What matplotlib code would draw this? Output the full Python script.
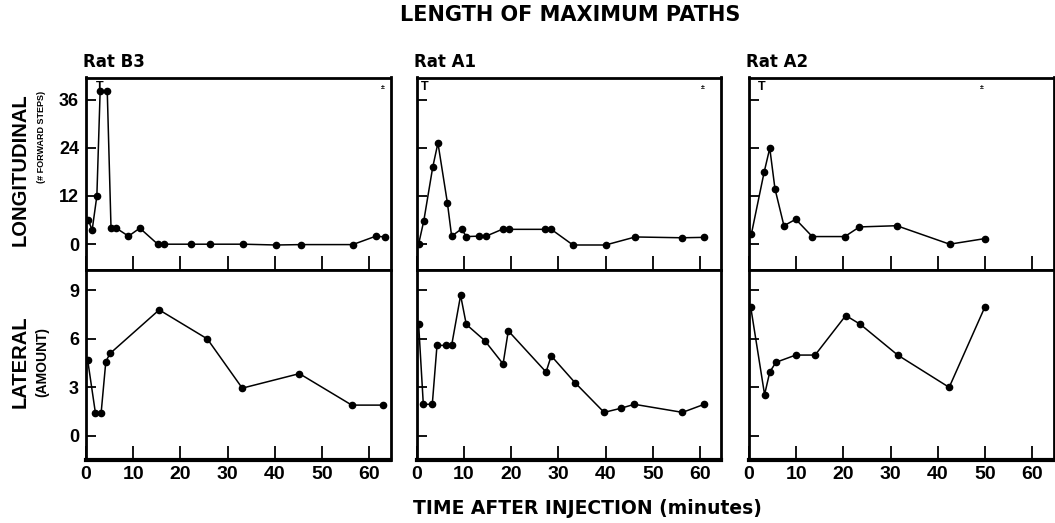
import matplotlib
matplotlib.use("Agg")
import matplotlib.pyplot as plt

plt.rcParams['font.family'] = ['Liberation Sans', 'DejaVu Sans']
plt.rcParams['font.weight'] = 'bold'

# ---------------- data ----------------
rats = ["Rat B3", "Rat A1", "Rat A2"]

b3_long_t = [0.5, 1.3, 2.3, 3.0, 4.5, 5.3, 6.4, 9.0, 11.4, 15.2, 16.5, 22.3, 26.3, 33.3, 40.3, 45.6, 56.5, 61.4, 63.3]
b3_long_v = [6.0, 3.5, 12.0, 38.2, 38.2, 4.0, 4.0, 2.0, 4.0, 0.0, 0.0, 0.0, 0.0, 0.0, -0.2, -0.1, -0.1, 2.0, 1.8]
b3_lat_t = [0.35, 2.0, 3.2, 4.2, 5.1, 15.5, 25.7, 33.1, 45.2, 56.3, 63.0]
b3_lat_v = [4.7, 1.4, 1.4, 4.6, 5.1, 7.8, 6.0, 2.95, 3.85, 1.9, 1.9]

a1_long_t = [0.4, 1.5, 3.4, 4.5, 6.5, 7.4, 9.5, 10.5, 13.1, 14.7, 18.3, 19.6, 27.1, 28.5, 33.1, 40.0, 46.3, 56.2, 60.8]
a1_long_v = [0.0, 5.8, 19.2, 25.2, 10.3, 2.0, 3.8, 1.9, 2.0, 2.0, 3.8, 3.7, 3.7, 3.7, -0.2, -0.2, 1.8, 1.6, 1.7]
a1_lat_t = [0.4, 1.4, 3.3, 4.3, 6.2, 7.4, 9.3, 10.5, 14.4, 18.3, 19.4, 27.4, 28.5, 33.5, 39.7, 43.2, 46.1, 56.3, 60.9]
a1_lat_v = [6.95, 1.95, 1.95, 5.6, 5.6, 5.6, 8.7, 6.9, 5.9, 4.45, 6.5, 3.95, 4.95, 3.3, 1.45, 1.7, 1.95, 1.45, 1.95]

a2_long_t = [0.5, 3.2, 4.4, 5.5, 7.4, 9.9, 13.4, 20.3, 23.4, 31.3, 42.5, 50.0]
a2_long_v = [2.5, 17.9, 23.9, 13.8, 4.6, 6.2, 1.9, 1.9, 4.3, 4.6, 0.0, 1.4]
a2_lat_t = [0.35, 3.3, 4.4, 5.7, 9.9, 14.0, 20.5, 23.6, 31.5, 42.4, 50.0]
a2_lat_v = [8.0, 2.55, 3.95, 4.55, 5.0, 5.0, 7.45, 6.9, 5.0, 3.0, 8.0]

long_t = [b3_long_t, a1_long_t, a2_long_t]
long_v = [b3_long_v, a1_long_v, a2_long_v]
lat_t = [b3_lat_t, a1_lat_t, a2_lat_t]
lat_v = [b3_lat_v, a1_lat_v, a2_lat_v]

x_ticks = [0, 10, 20, 30, 40, 50, 60]
long_ticks = [0, 12, 24, 36]
lat_ticks = [0, 3, 6, 9]

# "T" marks near top of each longitudinal panel (x position in minutes)
t_mark_x = [3.0, 1.7, 2.7]
# tiny marks near top right
small_mark_x = [62.8, 60.5, 49.4]

# ---------------- figure ----------------
W, H = 1055, 523
fig = plt.figure(figsize=(W / 100, H / 100), dpi=100)

lefts_px = [86, 416.7, 749]
ax_w_px = 304.5
top_px, mid_px, bot_px = 77.5, 269.5, 460

def fx(px):
    return px / W

def fy(py):
    return 1 - py / H

for i in range(3):
    l = fx(lefts_px[i])
    w = ax_w_px / W
    ax_top = fig.add_axes([l, fy(mid_px), w, (mid_px - top_px) / H])
    ax_bot = fig.add_axes([l, fy(bot_px), w, (bot_px - mid_px) / H])

    for ax in (ax_top, ax_bot):
        ax.set_xlim(0, 64.5)
        ax.set_xticks(x_ticks)
        for s in ax.spines.values():
            s.set_linewidth(2)
        ax.tick_params(direction='in', width=1.3, color='black')

    ax_top.set_ylim(-6.3, 41.5)
    ax_top.set_yticks(long_ticks)
    ax_top.tick_params(axis='x', length=10, labelbottom=False)
    ax_top.tick_params(axis='y', length=7, pad=5, labelsize=13)
    ax_top.plot(long_t[i], long_v[i], color='black', lw=1.1, marker='o', ms=4.5)

    ax_bot.set_ylim(-1.5, 10.3)
    ax_bot.set_yticks(lat_ticks)
    ax_bot.tick_params(axis='x', length=10, pad=4, labelsize=14)
    ax_bot.tick_params(axis='y', length=7, pad=5, labelsize=13)
    ax_bot.spines['bottom'].set_linewidth(3)
    ax_bot.plot(lat_t[i], lat_v[i], color='black', lw=1.1, marker='o', ms=4.5)

    if i > 0:
        ax_top.tick_params(axis='y', labelleft=False)
        ax_bot.tick_params(axis='y', labelleft=False)

    ax_top.text(t_mark_x[i], 40.6, "T", ha='center', va='top', fontsize=9, fontweight='bold')
    ax_top.text(small_mark_x[i], 39.0, "±", ha='center', va='center', fontsize=5, fontweight='bold')

    fig.text(fx(lefts_px[i] - 3), fy(66.7), rats[i], fontsize=12, fontweight='bold',
             family='DejaVu Sans', ha='left', va='baseline')

fig.text(fx(570), fy(15), "LENGTH OF MAXIMUM PATHS", fontsize=15, fontweight='bold',
         family='DejaVu Sans', ha='center', va='center')
fig.text(fx(587), fy(509), "TIME AFTER INJECTION (minutes)", fontsize=13.5, fontweight='bold',
         family='DejaVu Sans', ha='center', va='center')

fig.text(fx(20), fy(170), "LONGITUDINAL", rotation=90, fontsize=14.5, fontweight='bold',
         ha='center', va='center')
fig.text(fx(42), fy(137), "(# FORWARD STEPS)", rotation=90, fontsize=6.5, fontweight='bold',
         ha='center', va='center')
fig.text(fx(20), fy(362), "LATERAL", rotation=90, fontsize=14.5, fontweight='bold',
         ha='center', va='center')
fig.text(fx(42), fy(362), "(AMOUNT)", rotation=90, fontsize=10, fontweight='bold',
         ha='center', va='center')

fig.savefig("out.png", dpi=100)
